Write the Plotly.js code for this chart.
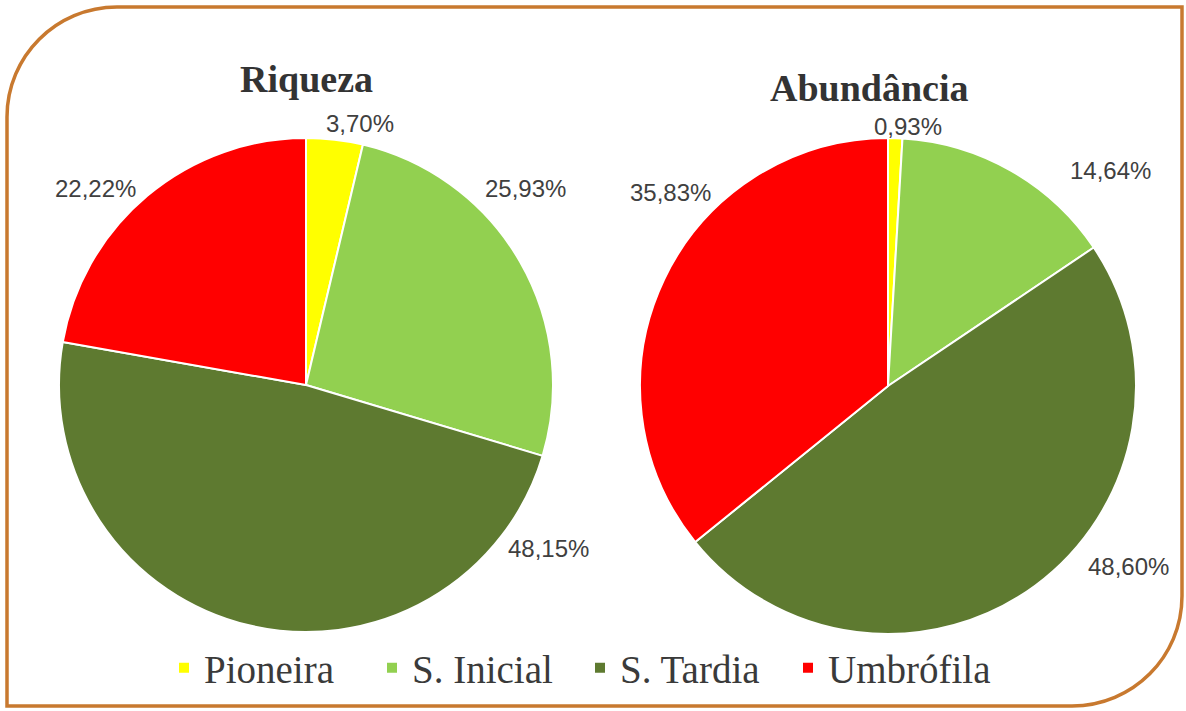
<!DOCTYPE html>
<html>
<head>
<meta charset="utf-8">
<script src="https://cdn.plot.ly/plotly-3.0.1.min.js"></script>
<style>html,body{margin:0;padding:0;background:#fff;}#chart{width:1186px;height:711px;}</style>
</head>
<body>
<div id="chart"></div>
<script>
// ---- data ----
const categories = ["Pioneira", "S. Inicial", "S. Tardia", "Umbrófila"];
const riquezaValues = [3.70, 25.93, 48.15, 22.22];
const abundanciaValues = [0.93, 14.64, 48.60, 35.83];
const chartTitles = ["Riqueza", "Abundância"];

// ---- styles / positions ----
const sliceColors = ["#FFFF00", "#92D050", "#5E7A30", "#FF0000"];
const W = 1186, H = 711;
// label centres in pixels (Excel best-fit placement)
const riquezaLabelX = [360, 525, 548, 95];
const riquezaLabelY = [124, 188, 548, 188];
const abundanciaLabelX = [908, 1110, 1128, 670];
const abundanciaLabelY = [126, 170, 566, 192];
const titleX = [306, 869];
const titleY = [79, 88];

function px(x){return x / W;}
function py(y){return 1 - y / H;}

function fmt(v){return v.toFixed(2).replace('.', ',') + '%';}

const pieCommon = {
  type: 'pie',
  labels: categories,
  sort: false,
  direction: 'clockwise',
  rotation: 0,
  textinfo: 'none',
  hoverinfo: 'label+percent',
  marker: {colors: sliceColors, line: {color: '#ffffff', width: 2}}
};

const traces = [
  Object.assign({}, pieCommon, {
    values: riquezaValues, name: chartTitles[0],
    domain: {x: [px(59), px(553)], y: [py(632), py(138)]}
  }),
  Object.assign({}, pieCommon, {
    values: abundanciaValues, name: chartTitles[1], showlegend: false,
    domain: {x: [px(640), px(1136)], y: [py(634), py(138)]}
  })
];

const annotations = [];
const labelFont = {family: 'Liberation Sans, Arial, sans-serif', size: 24, color: '#404040'};
riquezaValues.forEach((v, i) => annotations.push({
  xref: 'paper', yref: 'paper', x: px(riquezaLabelX[i]), y: py(riquezaLabelY[i]),
  xanchor: 'center', yanchor: 'middle', showarrow: false, text: fmt(v), font: labelFont
}));
abundanciaValues.forEach((v, i) => annotations.push({
  xref: 'paper', yref: 'paper', x: px(abundanciaLabelX[i]), y: py(abundanciaLabelY[i]),
  xanchor: 'center', yanchor: 'middle', showarrow: false, text: fmt(v), font: labelFont
}));
chartTitles.forEach((t, i) => annotations.push({
  xref: 'paper', yref: 'paper', x: px(titleX[i]), y: py(titleY[i]),
  xanchor: 'center', yanchor: 'middle', showarrow: false, text: '<b>' + t + '</b>',
  font: {family: 'Liberation Serif, Times New Roman, serif', size: 38, color: '#333333'}
}));

// frame with rounded top-left and bottom-right corners
const L = 7, R = 1182, T = 7, B = 706, rad = 110, k = 0.5523;
function P(x, y){return px(x).toFixed(5) + ',' + py(y).toFixed(5);}
const framePath =
  'M' + P(L + rad, T) +
  ' L' + P(R, T) +
  ' L' + P(R, B - rad) +
  ' C' + P(R, B - rad + rad * k) + ' ' + P(R - rad + rad * k, B) + ' ' + P(R - rad, B) +
  ' L' + P(L, B) +
  ' L' + P(L, T + rad) +
  ' C' + P(L, T + rad - rad * k) + ' ' + P(L + rad - rad * k, T) + ' ' + P(L + rad, T) + ' Z';

const layout = {
  width: W, height: H,
  margin: {l: 0, r: 0, t: 0, b: 0},
  paper_bgcolor: '#ffffff',
  separators: ',.',
  showlegend: true,
  legend: {
    orientation: 'h', x: px(580), xanchor: 'center', y: py(668), yanchor: 'middle',
    font: {family: 'Liberation Serif, Times New Roman, serif', size: 39, color: '#3a3a3a'},
    entrywidth: 163, entrywidthmode: 'pixels',
    itemclick: false, itemdoubleclick: false, traceorder: 'normal'
  },
  annotations: annotations,
  shapes: [{
    type: 'path', xref: 'paper', yref: 'paper', path: framePath,
    line: {color: '#C8792F', width: 3.5}, fillcolor: 'rgba(0,0,0,0)', layer: 'below'
  }]
};

Plotly.newPlot('chart', traces, layout, {displayModeBar: false, staticPlot: true});
</script>
</body>
</html>
